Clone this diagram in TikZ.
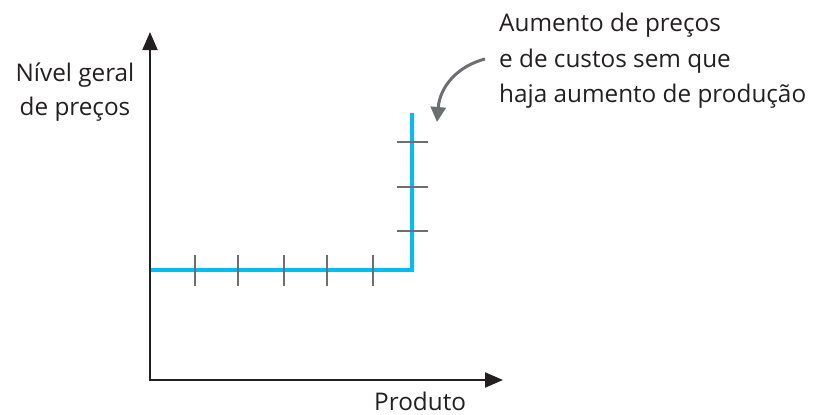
\documentclass[tikz,border=0pt]{standalone}
\usepackage{fontspec}
\setmainfont{Open Sans}
\usetikzlibrary{arrows.meta}
\definecolor{curvecyan}{RGB}{0,190,242}
\definecolor{tickgray}{RGB}{109,110,113}
\definecolor{axisblack}{RGB}{35,31,32}
\tikzset{
  axisline/.style={draw=axisblack,line width=2pt,-{Triangle[length=18pt,width=15pt]}},
  curveline/.style={draw=curvecyan,line width=4.5pt},
  tickline/.style={draw=tickgray,line width=2.5pt},
  pointer/.style={draw=tickgray,line width=3pt,-{Triangle[length=15pt,width=15pt]}},
  lbl/.style={inner sep=0pt,text=axisblack,font=\fontsize{24.3}{28}\selectfont}
}
\begin{document}
\begin{tikzpicture}[x=1pt,y=-1pt]
\useasboundingbox (0,0) rectangle (822,415);
% axes
\coordinate (O) at (150,380);
\coordinate (ytip) at (150,32);
\coordinate (xtip) at (503,380);
\draw[axisline] ([yshift=1pt]O) -- (ytip);
\draw[axisline] ([xshift=-1pt]O) -- (xtip);
% curve
\coordinate (c0) at (151,270);
\coordinate (c1) at (412,270);
\coordinate (c2) at (412,113);
\draw[curveline] (c0) -- (c1) -- (c2);
% ticks on horizontal part
\foreach \x [count=\i] in {195,238,284,327,373}{
  \coordinate (ht\i a) at (\x,255);
  \coordinate (ht\i b) at (\x,286);
  \draw[tickline] (ht\i a) -- (ht\i b);
}
% ticks on vertical part
\foreach \y [count=\i] in {142,187,231}{
  \coordinate (vt\i a) at (397,\y);
  \coordinate (vt\i b) at (428,\y);
  \draw[tickline] (vt\i a) -- (vt\i b);
}
% labels
\node[lbl,anchor=base] (ylab1) at (75,81) {Nível geral};
\node[lbl,anchor=base] (ylab2) at (75,115) {de preços};
\node[lbl,anchor=base west] (xlab) at (374,410.5) {Produto};
\node[lbl,anchor=base west] (n1) at (499,31) {Aumento de preços};
\node[lbl,anchor=base west] (n2) at (499,67) {e de custos sem que};
\node[lbl,anchor=base west] (n3) at (499,102) {haja aumento de produção};
% pointer
\coordinate (p0) at (485,59);
\coordinate (p1) at (437,122);
\draw[pointer] (p0) .. controls (458,66) and (440,86) .. (p1);
\end{tikzpicture}
\end{document}
